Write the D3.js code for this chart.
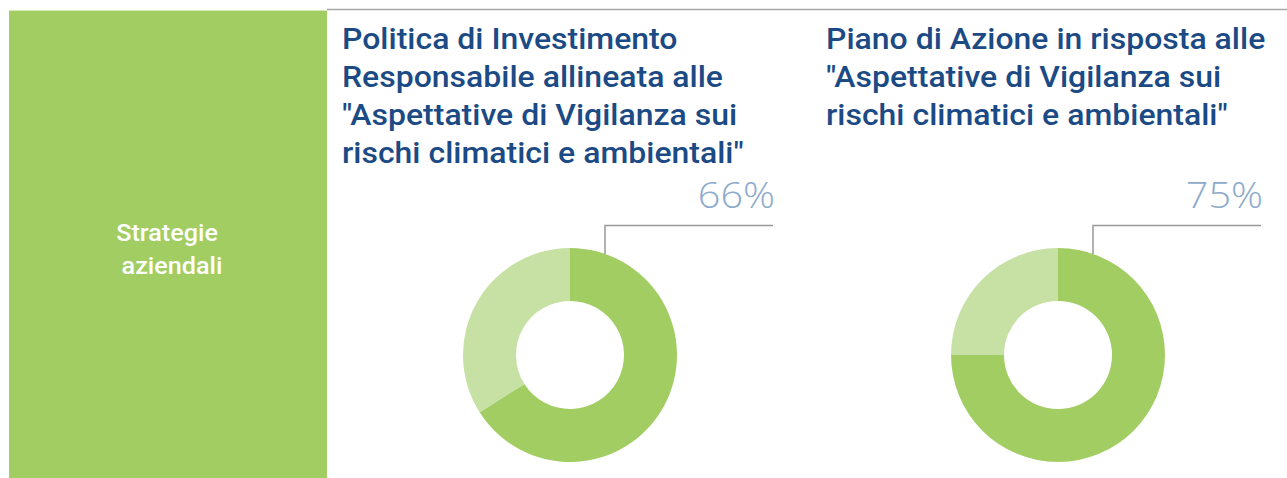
<!DOCTYPE html>
<html>
<head>
<meta charset="utf-8">
<script src="https://cdn.jsdelivr.net/npm/d3@7"></script>
<style>
  html, body { margin: 0; padding: 0; background: #fff; }
  svg { display: block; }
</style>
</head>
<body>
<svg id="chart" width="1287" height="478"></svg>
<script>
// Section label on the green side panel
const sectionLabel = ["Strategie", "aziendali"];

// One donut per indicator: title lines and share achieved (%)
const titles = [
  ["Politica di Investimento", "Responsabile allineata alle", "\"Aspettative di Vigilanza sui", "rischi climatici e ambientali\""],
  ["Piano di Azione in risposta alle", "\"Aspettative di Vigilanza sui", "rischi climatici e ambientali\""]
];
const shares = [66, 75];

const W = 1287, H = 478;
const svg = d3.select("#chart");

const GREEN = "#a2cd63", GREEN_LIGHT = "#c6e1a3";
const BLUE = "#1b4a85", PCT = "#8daacb";

// side panel
svg.append("rect").attr("x", 9).attr("y", 10).attr("width", 318).attr("height", H - 10).attr("fill", GREEN);
svg.append("line").attr("x1", 9).attr("x2", 327).attr("y1", 10.5).attr("y2", 10.5)
  .attr("stroke", "#d6e9bd").attr("stroke-width", 1);
svg.append("line").attr("x1", 327).attr("x2", W).attr("y1", 9.5).attr("y2", 9.5)
  .attr("stroke", "#a6a6a6").attr("stroke-width", 1.5);

// text with a slight horizontal stretch (wide-set typeface look)
function stretched(parent, x, y, sx) {
  return parent.append("g").attr("transform", `translate(${x},${y}) scale(${sx},1)`)
    .append("text");
}

const labelCenters = [167, 172];
sectionLabel.forEach((t, i) => {
  stretched(svg, labelCenters[i], 241 + i * 33, 1.05)
    .attr("text-anchor", "middle").attr("fill", "#fff")
    .style("font-family", "Roboto").style("font-size", "24px").style("font-weight", 500)
    .text(t);
});

// panel layout
const panels = [
  { x: 342, cx: 570, lineX: 605, lineEnd: 773 },
  { x: 826, cx: 1058, lineX: 1093, lineEnd: 1261 }
];
const cy = 355, R = 107, r = 54;

const pie = d3.pie().sort(null).value(d => d);
const arc = d3.arc().innerRadius(r).outerRadius(R);

panels.forEach((p, k) => {
  const g = svg.append("g");

  titles[k].forEach((t, i) => {
    stretched(g, p.x, 48.5 + i * 38, 1.066)
      .attr("fill", BLUE)
      .style("font-family", "Roboto").style("font-size", "30px").style("font-weight", 500)
      .text(t);
  });

  const data = [shares[k], 100 - shares[k]];
  g.append("g").attr("transform", `translate(${p.cx},${cy})`)
    .selectAll("path").data(pie(data)).join("path")
    .attr("d", arc).attr("fill", (d, i) => i === 0 ? GREEN : GREEN_LIGHT);

  // leader line from the donut edge up to the value label
  g.append("path")
    .attr("d", `M${p.lineX},${cy - Math.sqrt(R * R - (p.lineX - p.cx) ** 2)}V225.5H${p.lineEnd}`)
    .attr("fill", "none").attr("stroke", "#999").attr("stroke-width", 1.5);

  stretched(g, p.lineEnd + 2, 207.5, 1.1)
    .attr("text-anchor", "end").attr("fill", PCT)
    .style("font-family", "Open Sans").style("font-size", "36px").style("font-weight", 300)
    .text(shares[k] + "%");
});
</script>
</body>
</html>
